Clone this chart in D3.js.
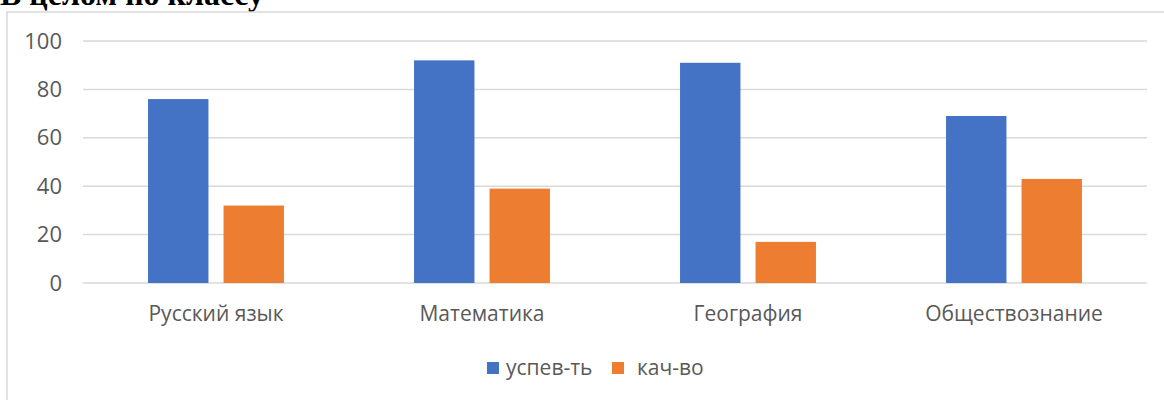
<!DOCTYPE html>
<html>
<head>
<meta charset="utf-8">
<script src="https://cdn.jsdelivr.net/npm/d3@7"></script>
<style>
  body { margin: 0; background: #fff; }
  svg { display: block; }
</style>
</head>
<body>
<div id="chart"></div>
<script>
// data
const subjects = ["Русский язык", "Математика", "География", "Обществознание"];
const seriesNames = ["успев-ть", "кач-во"];
const uspev = [76, 92, 91, 69];
const kach = [32, 39, 17, 43];
const yTicks = [0, 20, 40, 60, 80, 100];
const colors = ["#4472C4", "#ED7D31"];

const width = 1164, height = 400;
const margin = { left: 83, right: 17, top: 41, bottom: 117 };

const svg = d3.select("#chart")
  .append("svg")
  .attr("width", width)
  .attr("height", height);

// title, cut off at the top like in the source
svg.append("text")
  .attr("x", 0)
  .attr("y", 5)
  .attr("font-family", "Liberation Serif, Times New Roman, serif")
  .attr("font-weight", "bold")
  .attr("font-size", 32)
  .attr("fill", "#000")
  .text("В целом по классу");

// chart frame
svg.append("rect")
  .attr("x", 7)
  .attr("y", 12)
  .attr("width", width)
  .attr("height", height)
  .attr("fill", "none")
  .attr("stroke", "#d9d9d9")
  .attr("stroke-width", 1.5);

// scales
const x0 = d3.scaleBand()
  .domain(subjects)
  .range([margin.left, width - margin.right])
  .paddingInner(0.489)
  .paddingOuter(0.2445);

const x1 = d3.scaleBand()
  .domain(seriesNames)
  .range([0, x0.bandwidth()])
  .paddingInner(0.2);

const y = d3.scaleLinear()
  .domain([0, 100])
  .range([height - margin.bottom, margin.top]);

// gridlines
svg.append("g")
  .selectAll("line")
  .data(yTicks)
  .enter()
  .append("line")
  .attr("x1", margin.left)
  .attr("x2", width - margin.right)
  .attr("y1", d => y(d))
  .attr("y2", d => y(d))
  .attr("stroke", "#d9d9d9")
  .attr("stroke-width", 1.5);

// y axis labels
const yAxis = svg.append("g")
  .attr("transform", "translate(" + (margin.left - 21) + ",0)")
  .call(d3.axisLeft(y).tickValues(yTicks).tickSize(0).tickPadding(0));
yAxis.select(".domain").remove();
yAxis.selectAll("text")
  .attr("font-family", "Open Sans, sans-serif")
  .attr("font-size", 22)
  .attr("fill", "#595959");

// bars
const rows = subjects.map((s, i) => ({ subject: s, values: [uspev[i], kach[i]] }));

const groups = svg.append("g")
  .selectAll("g")
  .data(rows)
  .enter()
  .append("g")
  .attr("transform", d => "translate(" + x0(d.subject) + ",0)");

groups.selectAll("rect")
  .data(d => d.values.map((v, j) => ({ name: seriesNames[j], value: v, color: colors[j] })))
  .enter()
  .append("rect")
  .attr("x", d => x1(d.name))
  .attr("y", d => y(d.value))
  .attr("width", x1.bandwidth())
  .attr("height", d => y(0) - y(d.value))
  .attr("fill", d => d.color);

// category labels
const xAxis = svg.append("g")
  .attr("transform", "translate(0," + (height - margin.bottom + 23) + ")")
  .call(d3.axisBottom(x0).tickSize(0).tickPadding(0));
xAxis.select(".domain").remove();
xAxis.selectAll("text")
  .attr("dy", "0.71em")
  .attr("font-family", "Open Sans, sans-serif")
  .attr("font-size", 21)
  .attr("fill", "#595959");

// legend
const legendX = [487, 612];
const legend = svg.append("g")
  .selectAll("g")
  .data(seriesNames)
  .enter()
  .append("g")
  .attr("transform", (d, i) => "translate(" + legendX[i] + ",362)");

legend.append("rect")
  .attr("width", 12)
  .attr("height", 12)
  .attr("fill", (d, i) => colors[i]);

legend.append("text")
  .attr("x", (d, i) => i === 0 ? 19 : 25)
  .attr("y", 6)
  .attr("dy", "0.35em")
  .attr("font-family", "Open Sans, sans-serif")
  .attr("font-size", 21)
  .attr("fill", "#595959")
  .text(d => d);
</script>
</body>
</html>
